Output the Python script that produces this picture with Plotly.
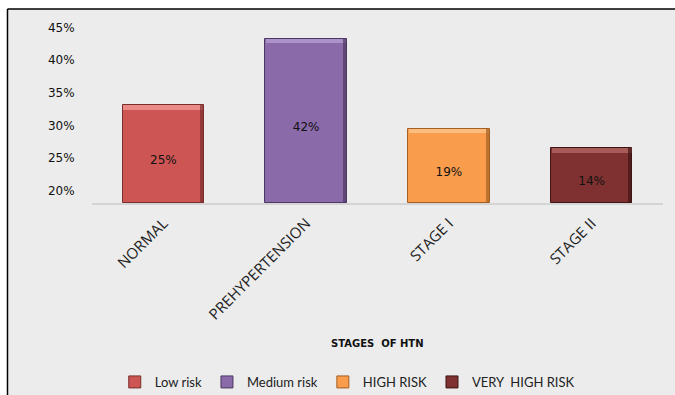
import plotly.graph_objects as go

# Stages of hypertension and the share of respondents in each
stages = ["NORMAL", "PREHYPERTENSION", "STAGE I", "STAGE II"]
shares = [25, 42, 19, 14]
risk_levels = ["Low risk", "Medium risk", "HIGH RISK", "VERY  HIGH RISK"]
risk_scale_ticks = [20, 25, 30, 35, 40, 45]

body_colors = ["#cd5654", "#8a6aa8", "#f99d4c", "#7e3130"]
top_colors = ["#ea8a87", "#ad91c9", "#fdbd7e", "#a65b59"]
edge_colors = ["#7a2e2c", "#4b3863", "#a45f22", "#3e1514"]

BAR_W = 0.57
fig = go.Figure()

for stage, val, risk, body, top, edge in zip(stages, shares, risk_levels,
                                             body_colors, top_colors, edge_colors):
    # main bar
    fig.add_trace(go.Bar(
        x=[stage], y=[val], name=risk, width=BAR_W,
        marker=dict(color=body, line=dict(color=edge, width=1)),
        hovertemplate="%{x}: %{y}%<extra></extra>",
    ))
    # bevel highlight along the top
    fig.add_trace(go.Bar(
        x=[stage], y=[1.1], base=[val - 1.1], width=BAR_W - 0.01,
        marker=dict(color=top, line=dict(width=0)), showlegend=False, hoverinfo="skip",
    ))
    # shaded right edge
    fig.add_trace(go.Bar(
        x=[stage], y=[val], width=0.025, offset=BAR_W / 2 - 0.027,
        marker=dict(color=edge, opacity=0.7, line=dict(width=0)),
        showlegend=False, hoverinfo="skip",
    ))

# value labels, sitting a little below the middle of each bar
fig.add_trace(go.Scatter(
    x=stages, y=[v / 2 - 1.7 for v in shares], mode="text",
    text=[f"{v}%" for v in shares],
    textfont=dict(family="DejaVu Sans", size=12, color="#111111"),
    showlegend=False, hoverinfo="skip",
))

# invisible carrier for the printed percentage scale on the left
fig.add_trace(go.Scatter(x=[stages[0]], y=[risk_scale_ticks[0]], yaxis="y2",
                         mode="markers", marker=dict(opacity=0), showlegend=False,
                         hoverinfo="skip"))

fig.update_layout(
    width=675, height=395,
    margin=dict(l=92, r=12, t=20, b=192, autoexpand=False),
    paper_bgcolor="white", plot_bgcolor="rgba(0,0,0,0)",
    barmode="overlay", bargap=0,
    font=dict(family="Lato", color="#222222"),
    xaxis=dict(
        tickangle=-45, tickfont=dict(family="Open Sans", size=15, color="#222222"),
        showline=True, linecolor="#d4d4d4", linewidth=1.5, showgrid=False,
        ticks="outside", ticklen=4, tickcolor="rgba(0,0,0,0)", zeroline=False,
        automargin=False,
    ),
    yaxis=dict(range=[0, 46.92], visible=False, showgrid=False, zeroline=False),
    yaxis2=dict(
        overlaying="y", side="left", range=[18.11, 46.18],
        tickmode="array", tickvals=risk_scale_ticks,
        ticktext=[f"{v}%" for v in risk_scale_ticks],
        tickfont=dict(family="DejaVu Sans", size=12, color="#111111"),
        ticks="outside", ticklen=14, tickcolor="rgba(0,0,0,0)",
        showgrid=False, zeroline=False, showline=False, automargin=False,
    ),
    annotations=[
        dict(text="<b>STAGES  OF HTN</b>", xref="paper", yref="paper",
             x=0.5, y=-0.770, xanchor="center", yanchor="middle", showarrow=False,
             font=dict(family="DejaVu Sans", size=10, color="#111111")),
    ],
    legend=dict(orientation="h", x=0.447, xanchor="center", y=-0.978,
                yanchor="middle", font=dict(family="Lato", size=13, color="#222222"),
                itemwidth=30, traceorder="normal", bgcolor="rgba(0,0,0,0)"),
    shapes=[
        dict(type="rect", xref="paper", yref="paper", layer="below",
             x0=-0.148, x1=1.05, y0=-1.1, y1=1.06,
             fillcolor="#ececec", line=dict(width=0)),
        dict(type="line", xref="paper", yref="paper", layer="above",
             x0=-0.148, x1=1.05, y0=1.06, y1=1.06, line=dict(color="black", width=1.5)),
        dict(type="line", xref="paper", yref="paper", layer="above",
             x0=-0.148, x1=-0.148, y0=-1.1, y1=1.06, line=dict(color="black", width=1.5)),
    ],
)

fig.write_html("out.html")
